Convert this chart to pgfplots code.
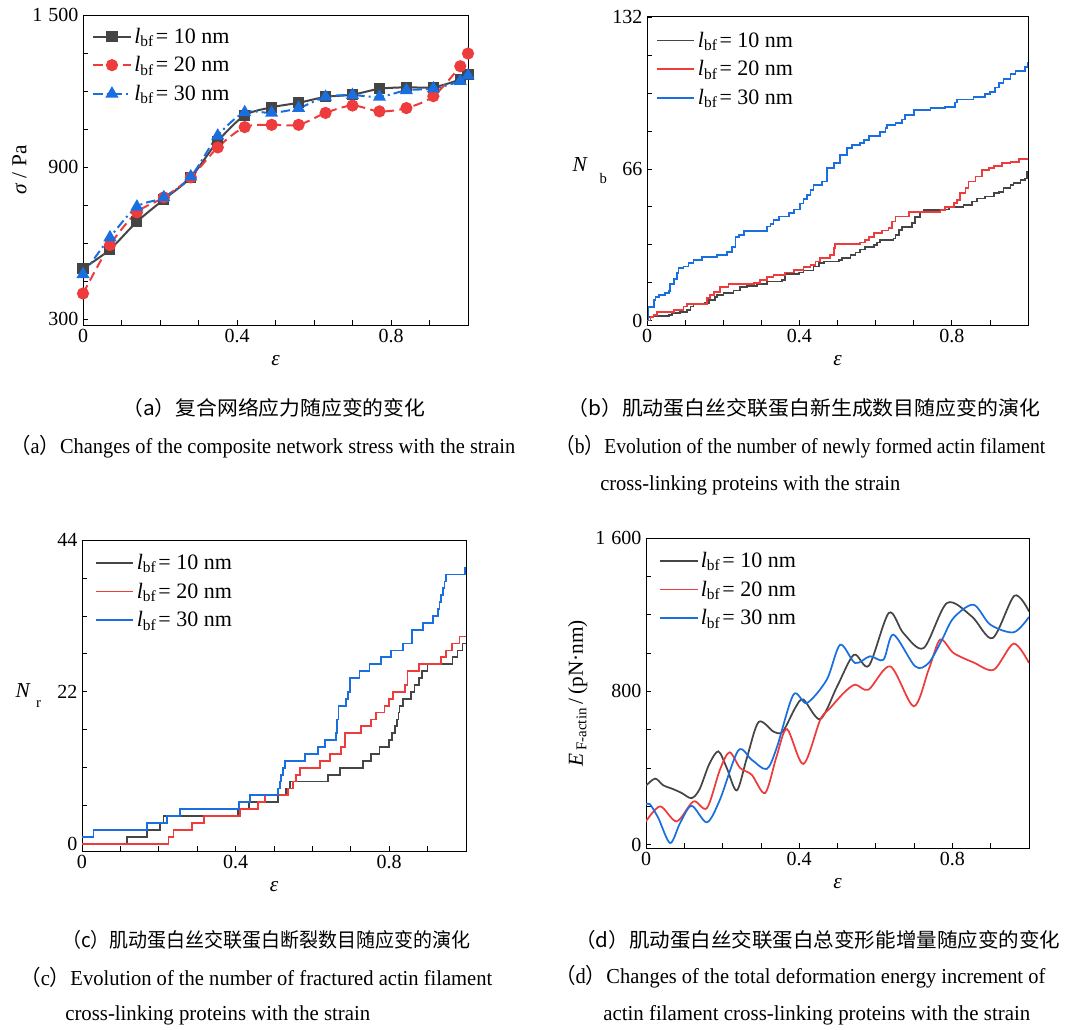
\documentclass[border=0pt]{standalone}
\usepackage{pgfplots}
\pgfplotsset{compat=1.18}
\usepackage{fontspec}
\setmainfont{Liberation Serif}
\newfontfamily\cjk{Noto Sans CJK SC}
\usepackage{graphicx}

\definecolor{cK}{HTML}{454545}
\definecolor{cR}{HTML}{EE3B3B}
\definecolor{cB}{HTML}{1A6FE0}

\newcommand{\lbf}[1]{\textit{l}\textsubscript{bf}\kern1.5pt=\ #1 nm}

\pgfplotsset{
  panel/.style={
    scale only axis,
    xmin=0, xmax=1,
    xtick={0,0.4,0.8},
    xticklabels={0,0.4,0.8},
    minor xtick={0.1,0.2,0.3,0.5,0.6,0.7,0.9},
    tick pos=left,
    tick align=inside,
    major tick length=4pt,
    minor tick length=4pt,
    every tick/.style={black, line width=0.6pt},
    axis line style={line width=0.7pt},
    tick label style={font=\fontsize{15}{15}\selectfont},
    /pgf/number format/assume math mode=true,
    xlabel={\textit{ε}},
    xlabel style={font=\fontsize{16}{16}\selectfont, yshift=-2pt},
    ylabel style={font=\fontsize{16}{16}\selectfont},
    legend cell align=left,
    legend style={draw=none, fill=none, font=\fontsize{16.5}{16.5}\selectfont, anchor=north west, row sep=4.5pt, inner sep=1pt},
    legend image code/.code={\draw[mark repeat=2,mark phase=2,##1] plot coordinates {(0pt,0pt) (14pt,0pt) (28pt,0pt)};},
  },
}

\begin{document}
\begin{tikzpicture}
\path[use as bounding box] (0pt,0pt) rectangle (798.75pt,772.5pt);

% ---------------- (a)
\begin{axis}[panel,
  at={(62.25pt,528.75pt)}, anchor=south west,
  width=288.75pt, height=232.5pt,
  ymin=278, ymax=1500,
  ytick={300,900,1500}, yticklabels={300,900,1\hspace{0.3em}500},
  minor ytick={450,600,750,1050,1200,1350},
  ylabel={\textit{σ} / Pa},
  ylabel style={at={(axis description cs:-0.165,0.5)}, anchor=center},
  legend style={at={(axis description cs:0.02,0.972)}},
]
\addplot[cK, line width=1.5pt, smooth, mark=square*, mark size=3.4pt, mark options={solid}] coordinates {
(0,500) (0.07,576) (0.14,685) (0.21,773) (0.28,860) (0.35,1002) (0.42,1104) (0.49,1136) (0.56,1154) (0.63,1177) (0.70,1186) (0.77,1209) (0.84,1215) (0.91,1215) (0.98,1246) (1.0,1265)};
\addlegendentry{\lbf{10}}
\addplot[cR, line width=1.5pt, smooth, dash pattern=on 7pt off 4pt, mark=*, mark size=3.8pt, mark options={solid}] coordinates {
(0,402) (0.07,593) (0.14,722) (0.21,781) (0.28,860) (0.35,978) (0.42,1058) (0.49,1067) (0.56,1067) (0.63,1114) (0.70,1143) (0.77,1120) (0.84,1133) (0.91,1180) (0.98,1298) (1.0,1348)};
\addlegendentry{\lbf{20}}
\addplot[cB, line width=1.5pt, smooth, dash pattern=on 7pt off 3pt on 1.5pt off 3pt, mark=triangle*, mark size=4.2pt, mark options={solid}] coordinates {
(0,478) (0.07,623) (0.14,744) (0.21,781) (0.28,863) (0.35,1024) (0.42,1116) (0.49,1114) (0.56,1133) (0.63,1177) (0.70,1184) (0.77,1177) (0.84,1203) (0.91,1210) (0.98,1239) (1.0,1261)};
\addlegendentry{\lbf{30}}
\end{axis}

% ---------------- (b)
\begin{axis}[panel,
  at={(485.25pt,528.75pt)}, anchor=south west,
  width=285.75pt, height=231.75pt,
  ymin=-1.9, ymax=132.6,
  ytick={0,66,132},
  minor ytick={16.5,33,49.5,82.5,99,115.5},
  ylabel={\textit{N}\raisebox{-0.55em}{\hspace{0.55em}\fontsize{11}{11}\selectfont b}},
  ylabel style={rotate=-90, at={(axis description cs:-0.15,0.5)}, anchor=center},
  legend style={at={(axis description cs:0.02,0.962)}},
]
\addplot[cK, line width=1.3pt, const plot] coordinates {
(0,0) (0.004,1.5) (0.017,2) (0.057,2.5) (0.066,3.2) (0.087,3.9) (0.105,4.6) (0.114,6.1) (0.122,7.5) (0.153,7.8) (0.162,9) (0.179,10.4) (0.184,11.2) (0.201,11.9) (0.227,13.1) (0.245,14.5) (0.262,15.1) (0.289,15.8) (0.315,17) (0.354,17.7) (0.363,20.3) (0.398,20.9) (0.411,21.8) (0.437,23.5) (0.451,25) (0.464,25.7) (0.503,26.4) (0.512,27.4) (0.534,28.6) (0.547,29.6) (0.560,31) (0.573,32.2) (0.595,32.9) (0.604,34) (0.612,35.1) (0.647,35.8) (0.652,37.3) (0.661,39.5) (0.669,40.9) (0.696,42.4) (0.704,45) (0.717,47.4) (0.726,48.2) (0.766,48.4) (0.792,49.6) (0.831,50.3) (0.853,51.8) (0.866,53.2) (0.888,54) (0.910,55.4) (0.923,56.1) (0.936,57.6) (0.954,59) (0.962,60) (0.980,61.2) (0.993,61.9) (0.997,64.8) (1.000,64.8)};
\addlegendentry{\lbf{10}}
\addplot[cR, line width=1.3pt, const plot] coordinates {
(0,0) (0.009,1.7) (0.017,2.5) (0.026,3.9) (0.070,4.6) (0.096,6.1) (0.105,7.3) (0.157,9.7) (0.166,11.2) (0.175,12.6) (0.192,14.5) (0.214,16) (0.280,16.5) (0.297,17.7) (0.315,18.9) (0.332,19.9) (0.363,20.9) (0.385,22) (0.411,23.2) (0.429,24.2) (0.442,25.7) (0.455,27.1) (0.481,28.6) (0.490,31.5) (0.494,33.4) (0.560,34) (0.573,35.1) (0.582,36.3) (0.595,38) (0.617,39.2) (0.634,40.2) (0.643,43.1) (0.652,45.3) (0.687,47.4) (0.770,48.2) (0.783,49.6) (0.805,51.1) (0.814,52.5) (0.822,55.4) (0.836,57.6) (0.844,60.5) (0.862,62.7) (0.879,65.6) (0.897,66.3) (0.910,67.3) (0.932,68.5) (0.954,69.2) (0.976,70.2) (1.000,70.2)};
\addlegendentry{\lbf{20}}
\addplot[cB, line width=1.3pt, const plot] coordinates {
(0,0) (0.004,6) (0.018,9) (0.022,10.4) (0.031,11) (0.048,12) (0.057,13) (0.061,16) (0.070,18) (0.079,20.6) (0.083,23) (0.096,23.5) (0.109,25) (0.122,26.4) (0.144,27.8) (0.184,28.6) (0.210,30) (0.223,32) (0.232,36.5) (0.241,37.3) (0.254,39) (0.315,41) (0.324,42) (0.332,43.8) (0.346,45.3) (0.372,46.7) (0.385,48.4) (0.402,51) (0.411,53) (0.420,54.7) (0.429,56.9) (0.437,59) (0.459,60.5) (0.472,66.3) (0.490,68.5) (0.507,72) (0.525,75) (0.538,76.4) (0.560,77.2) (0.569,78.6) (0.582,80.4) (0.612,82.2) (0.626,83.7) (0.630,85) (0.652,86.1) (0.669,87.6) (0.678,89.5) (0.700,91.7) (0.744,92.4) (0.783,93.1) (0.809,94.9) (0.814,96.3) (0.857,97.2) (0.888,98.6) (0.901,99.6) (0.914,101.5) (0.923,103.3) (0.936,105.2) (0.954,107.3) (0.967,108.8) (0.993,110.5) (1.000,112.7)};
\addlegendentry{\lbf{30}}
\end{axis}

% ---------------- (c)
\begin{axis}[panel,
  at={(61.5pt,134.25pt)}, anchor=south west,
  width=288pt, height=233.25pt,
  ymin=-1.06, ymax=44,
  ytick={0,22,44},
  minor ytick={5.5,11,16.5,27.5,33,38.5},
  ylabel={\textit{N}\raisebox{-0.45em}{\hspace{0.25em}\fontsize{11}{11}\selectfont r}},
  ylabel style={rotate=-90, at={(axis description cs:-0.14,0.5)}, anchor=center},
  legend style={at={(axis description cs:0.03,0.968)}},
]
\addplot[cK, line width=1.3pt, const plot] coordinates {
(0,0) (0.117,1) (0.169,2) (0.203,3) (0.212,4) (0.407,5) (0.435,6) (0.511,7) (0.532,8) (0.541,9) (0.641,10) (0.671,11) (0.732,12) (0.753,13) (0.775,14) (0.799,15) (0.808,16) (0.816,17) (0.821,18) (0.824,19) (0.827,20) (0.835,21) (0.857,22) (0.866,23) (0.877,24) (0.886,25) (0.900,26) (0.965,27) (0.978,28) (0.991,29) (1.0,29)};
\addlegendentry{\lbf{10}}
\addplot[cR, line width=1.3pt, const plot] coordinates {
(0,0) (0.225,1) (0.238,2) (0.286,3) (0.318,4) (0.411,5) (0.459,6) (0.476,7) (0.537,8) (0.550,9) (0.558,10) (0.567,11) (0.619,12) (0.645,13) (0.675,14) (0.684,16) (0.727,17) (0.753,18) (0.765,19) (0.788,20) (0.799,21) (0.810,22) (0.842,23) (0.848,25) (0.877,26) (0.935,27) (0.948,28) (0.964,29) (0.983,30) (1.0,30)};
\addlegendentry{\lbf{20}}
\addplot[cB, line width=1.3pt, const plot] coordinates {
(0,1) (0.030,2) (0.169,3) (0.221,4) (0.255,5) (0.409,6) (0.437,7) (0.511,8) (0.515,9) (0.519,10) (0.524,11) (0.528,12) (0.580,13) (0.615,14) (0.632,15) (0.661,16) (0.664,18) (0.668,20) (0.688,21) (0.693,22) (0.697,24) (0.723,25) (0.749,26) (0.779,27) (0.805,28) (0.835,29) (0.860,31) (0.888,32) (0.914,33) (0.927,34) (0.931,35) (0.935,36) (0.940,37) (0.944,38) (0.948,39) (0.998,40) (1.0,40)};
\addlegendentry{\lbf{30}}
\end{axis}

% ---------------- (d)
\begin{axis}[panel,
  at={(484.5pt,136.5pt)}, anchor=south west,
  width=287.25pt, height=232.5pt,
  ymin=-17, ymax=1600,
  ytick={0,800,1600}, yticklabels={0,800,1\hspace{0.3em}600},
  minor ytick={200,400,600,1000,1200,1400},
  ylabel={\textit{E}\textsubscript{\,F-actin}\,/\,(pN·nm)},
  ylabel style={at={(axis description cs:-0.178,0.5)}, anchor=center},
  legend style={at={(axis description cs:0.03,0.968)}},
]
\addplot[cK, line width=1.3pt, smooth] coordinates {
(0,308) (0.024,345) (0.045,310) (0.071,290) (0.093,270) (0.119,243) (0.140,290) (0.165,420) (0.189,487) (0.211,400) (0.237,283) (0.263,450) (0.294,640) (0.333,590) (0.357,590) (0.390,715) (0.411,757) (0.455,655) (0.50,830) (0.543,991) (0.582,934) (0.634,1209) (0.672,1104) (0.725,1026) (0.786,1261) (0.851,1190) (0.905,1078) (0.962,1299) (1.0,1217)};
\addlegendentry{\lbf{10}}
\addplot[cR, line width=1.3pt, smooth] coordinates {
(0,122) (0.037,200) (0.080,122) (0.124,226) (0.159,191) (0.193,391) (0.218,482) (0.246,400) (0.276,365) (0.311,270) (0.341,461) (0.368,603) (0.411,421) (0.455,652) (0.481,713) (0.516,791) (0.546,835) (0.581,809) (0.638,930) (0.699,722) (0.738,913) (0.768,1070) (0.803,1000) (0.855,951) (0.908,913) (0.960,1049) (1.0,948)};
\addlegendentry{\lbf{20}}
\addplot[cB, line width=1.3pt, smooth] coordinates {
(0,209) (0.010,212) (0.032,140) (0.063,9) (0.089,113) (0.119,203) (0.159,117) (0.193,235) (0.241,492) (0.276,443) (0.315,395) (0.341,504) (0.385,783) (0.420,739) (0.472,861) (0.507,1043) (0.546,948) (0.585,983) (0.620,965) (0.646,1096) (0.703,930) (0.738,948) (0.773,1070) (0.803,1183) (0.855,1252) (0.899,1148) (0.960,1108) (1.0,1188)};
\addlegendentry{\lbf{30}}
\end{axis}

% ---------------- captions
\node[anchor=west, inner sep=0pt] at (91.5pt,466.5pt) {\resizebox{227.25pt}{\height}{\cjk\fontsize{15}{15}\selectfont （a）复合网络应力随应变的变化}};
\node[anchor=west, inner sep=0pt] at (7.5pt,437.25pt) {\resizebox{378.75pt}{\height}{\fontsize{16}{16}\selectfont{\cjk （}a{\cjk ）}Changes of the composite network stress with the strain}};

\node[anchor=west, inner sep=0pt] at (425.25pt,466.5pt) {\resizebox{354.75pt}{\height}{\cjk\fontsize{15}{15}\selectfont （b）肌动蛋白丝交联蛋白新生成数目随应变的演化}};
\node[anchor=west, inner sep=0pt] at (416.25pt,437.25pt) {\resizebox{367.5pt}{\height}{\fontsize{16}{16}\selectfont{\cjk （}b{\cjk ）}Evolution of the number of newly formed actin filament}};
\node[anchor=west, inner sep=0pt] at (450pt,408.75pt) {\resizebox{225pt}{\height}{\fontsize{16}{16}\selectfont cross-linking proteins with the strain}};

\node[anchor=west, inner sep=0pt] at (46.5pt,67.5pt) {\resizebox{306pt}{\height}{\cjk\fontsize{15}{15}\selectfont （c）肌动蛋白丝交联蛋白断裂数目随应变的演化}};
\node[anchor=west, inner sep=0pt] at (15pt,39.75pt) {\resizebox{354pt}{\height}{\fontsize{16}{16}\selectfont{\cjk （}c{\cjk ）}Evolution of the number of fractured actin filament}};
\node[anchor=west, inner sep=0pt] at (48.75pt,11.25pt) {\resizebox{228.75pt}{\height}{\fontsize{16}{16}\selectfont cross-linking proteins with the strain}};

\node[anchor=west, inner sep=0pt] at (431.25pt,67.5pt) {\resizebox{363.75pt}{\height}{\cjk\fontsize{15}{15}\selectfont （d）肌动蛋白丝交联蛋白总变形能增量随应变的变化}};
\node[anchor=west, inner sep=0pt] at (416.25pt,39.75pt) {\resizebox{367.5pt}{\height}{\fontsize{16}{16}\selectfont{\cjk （}d{\cjk ）}Changes of the total deformation energy increment of}};
\node[anchor=west, inner sep=0pt] at (452.25pt,11.25pt) {\resizebox{320.25pt}{\height}{\fontsize{16}{16}\selectfont actin filament cross-linking proteins with the strain}};
\end{tikzpicture}
\end{document}
